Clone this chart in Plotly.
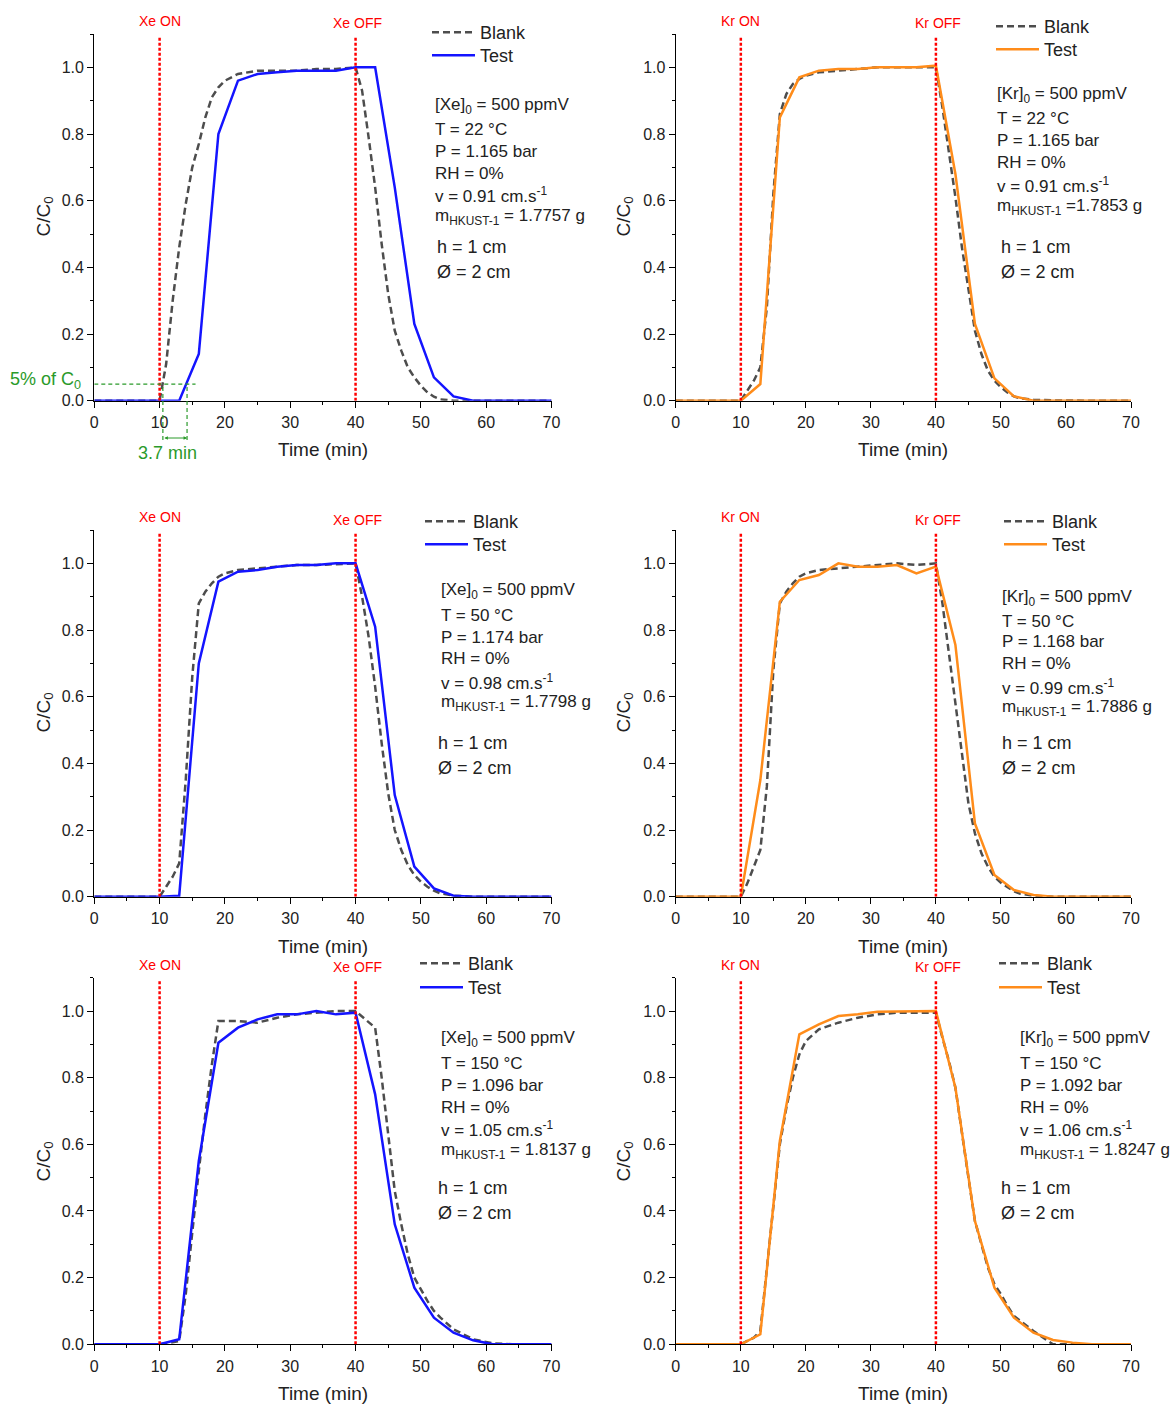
import plotly.graph_objects as go

W, H = 1173, 1404

# ---------------- data ----------------
test_time = [0, 10, 13, 16, 19, 22, 25, 28, 31, 34, 37, 40, 43, 46, 49, 52, 55, 58, 61, 64, 70]
blank_time = [0, 10, 11, 12, 13, 14, 15, 16, 17, 18, 19, 20, 22, 25, 28, 31, 34, 37, 40,
              41, 42, 43, 44, 45, 46, 47, 48, 49, 50, 51, 52, 53, 55, 58, 61, 64, 70]

xe22_test = [0, 0, 0, 0.14, 0.80, 0.96, 0.98, 0.985, 0.99, 0.99, 0.99, 1.0, 1.0, 0.64, 0.23, 0.07, 0.013, 0, 0, 0, 0]
kr22_test = [0, 0, 0.05, 0.85, 0.97, 0.99, 0.995, 0.995, 1.0, 1.0, 1.0, 1.005, 0.68, 0.23, 0.067, 0.013, 0.0, 0, 0, 0, 0]
xe50_test = [0, 0, 0.003, 0.70, 0.945, 0.975, 0.98, 0.99, 0.995, 0.995, 1.0, 1.0, 0.81, 0.305, 0.09, 0.025, 0.003, 0, 0, 0, 0]
kr50_test = [0, 0, 0.35, 0.885, 0.95, 0.965, 1.0, 0.99, 0.99, 0.995, 0.97, 0.99, 0.755, 0.22, 0.065, 0.02, 0.005, 0, 0, 0, 0]
xe150_test = [0, 0, 0.015, 0.55, 0.905, 0.95, 0.975, 0.99, 0.99, 1.0, 0.99, 0.995, 0.75, 0.36, 0.17, 0.08, 0.035, 0.012, 0, 0, 0]
kr150_test = [0, 0, 0.03, 0.61, 0.93, 0.96, 0.985, 0.99, 0.998, 0.998, 1.0, 1.0, 0.77, 0.37, 0.17, 0.08, 0.035, 0.013, 0.005, 0, 0]

xe22_blank = [0, 0, 0.11, 0.30, 0.46, 0.59, 0.70, 0.77, 0.85, 0.91, 0.94, 0.96, 0.98, 0.99, 0.99, 0.99, 0.995, 0.995, 1.0,
              0.93, 0.79, 0.64, 0.47, 0.32, 0.21, 0.15, 0.10, 0.07, 0.045, 0.025, 0.012, 0.004, 0, 0, 0, 0, 0]
kr22_blank = [0, 0, 0.03, 0.06, 0.10, 0.28, 0.62, 0.86, 0.92, 0.95, 0.965, 0.975, 0.985, 0.99, 0.995, 1.0, 1.0, 1.0, 1.0,
              0.88, 0.75, 0.61, 0.46, 0.33, 0.21, 0.14, 0.09, 0.06, 0.04, 0.025, 0.013, 0.007, 0.003, 0.001, 0, 0, 0]
xe50_blank = [0, 0, 0.03, 0.06, 0.10, 0.35, 0.66, 0.88, 0.915, 0.94, 0.96, 0.97, 0.98, 0.985, 0.99, 0.995, 0.995, 0.997, 1.0,
              0.90, 0.78, 0.63, 0.46, 0.31, 0.20, 0.14, 0.095, 0.065, 0.045, 0.03, 0.018, 0.01, 0.003, 0, 0, 0, 0]
kr50_blank = [0, 0, 0.04, 0.09, 0.14, 0.33, 0.68, 0.88, 0.915, 0.94, 0.96, 0.97, 0.98, 0.985, 0.99, 0.995, 1.0, 0.995, 1.0,
              0.88, 0.73, 0.58, 0.42, 0.28, 0.19, 0.13, 0.09, 0.06, 0.042, 0.028, 0.016, 0.009, 0.003, 0, 0, 0, 0]
xe150_blank = [0, 0, 0.003, 0.006, 0.01, 0.15, 0.34, 0.52, 0.69, 0.84, 0.97, 0.97, 0.97, 0.965, 0.98, 0.99, 0.995, 1.0, 1.0,
               0.983, 0.967, 0.95, 0.80, 0.62, 0.46, 0.36, 0.27, 0.20, 0.165, 0.13, 0.10, 0.08, 0.045, 0.015, 0.003, 0, 0]
kr150_blank = [0, 0, 0.01, 0.02, 0.04, 0.22, 0.42, 0.60, 0.71, 0.80, 0.87, 0.91, 0.945, 0.965, 0.98, 0.99, 0.995, 0.995, 0.995,
               0.92, 0.85, 0.77, 0.63, 0.50, 0.37, 0.30, 0.23, 0.18, 0.15, 0.115, 0.085, 0.07, 0.04, 0.0, 0, 0, 0]

gas_on_off = [10, 40]
x_ticks = [0, 10, 20, 30, 40, 50, 60, 70]
y_ticks = [0.0, 0.2, 0.4, 0.6, 0.8, 1.0]
threshold = 0.05            # 5 % of C0
bt_blank, bt_test = 10.5, 14.2   # breakthrough times at 5 %

BLUE = "#1414ff"
ORANGE = "#ff8c1a"
GREY = "#4d4d4d"
RED = "#ff0000"
GREEN = "#2a9a2a"
TXT = "#222222"
FONT = "Arial, Liberation Sans, sans-serif"

panels = [
    dict(gas="Xe", test=xe22_test, blank=xe22_blank, color=BLUE, col=0, row=0,
         params=["[Xe]<sub>0</sub> = 500 ppmV", "T = 22 °C", "P = 1.165 bar", "RH = 0%",
                 "v = 0.91 cm.s<sup>-1</sup>", "m<sub>HKUST-1</sub> = 1.7757 g"],
         ppx=433, hpx=435, py=[106, 130, 152, 173, 195, 217, 247, 272],
         leg=(433, 32, 55)),
    dict(gas="Kr", test=kr22_test, blank=kr22_blank, color=ORANGE, col=1, row=0,
         params=["[Kr]<sub>0</sub> = 500 ppmV", "T = 22 °C", "P = 1.165 bar", "RH = 0%",
                 "v = 0.91 cm.s<sup>-1</sup>", "m<sub>HKUST-1</sub> =1.7853 g"],
         ppx=995, hpx=999, py=[95, 118, 141, 162, 185, 207, 247, 272],
         leg=(997, 26, 49)),
    dict(gas="Xe", test=xe50_test, blank=xe50_blank, color=BLUE, col=0, row=1,
         params=["[Xe]<sub>0</sub> = 500 ppmV", "T = 50 °C", "P = 1.174 bar", "RH = 0%",
                 "v = 0.98 cm.s<sup>-1</sup>", "m<sub>HKUST-1</sub> = 1.7798 g"],
         ppx=439, hpx=436, py=[591, 615, 637, 658, 682, 703, 743, 768],
         leg=(426, 521, 544)),
    dict(gas="Kr", test=kr50_test, blank=kr50_blank, color=ORANGE, col=1, row=1,
         params=["[Kr]<sub>0</sub> = 500 ppmV", "T = 50 °C", "P = 1.168 bar", "RH = 0%",
                 "v = 0.99 cm.s<sup>-1</sup>", "m<sub>HKUST-1</sub> = 1.7886 g"],
         ppx=1000, hpx=1000, py=[598, 621, 642, 663, 687, 708, 743, 768],
         leg=(1005, 521, 544)),
    dict(gas="Xe", test=xe150_test, blank=xe150_blank, color=BLUE, col=0, row=2,
         params=["[Xe]<sub>0</sub> = 500 ppmV", "T = 150 °C", "P = 1.096 bar", "RH = 0%",
                 "v = 1.05 cm.s<sup>-1</sup>", "m<sub>HKUST-1</sub> = 1.8137 g"],
         ppx=439, hpx=436, py=[1039, 1063, 1085, 1107, 1129, 1151, 1188, 1213],
         leg=(421, 963, 987)),
    dict(gas="Kr", test=kr150_test, blank=kr150_blank, color=ORANGE, col=1, row=2,
         params=["[Kr]<sub>0</sub> = 500 ppmV", "T = 150 °C", "P = 1.092 bar", "RH = 0%",
                 "v = 1.06 cm.s<sup>-1</sup>", "m<sub>HKUST-1</sub> = 1.8247 g"],
         ppx=1018, hpx=999, py=[1039, 1063, 1085, 1107, 1129, 1151, 1188, 1213],
         leg=(1000, 963, 987)),
]

# pixel geometry of the axes boxes
col_px = [(94.3, 551.5), (675.8, 1131.0)]
row_px = [(34.0, 400.7), (530.0, 896.7), (977.7, 1344.3)]
xtitle_py = [450, 946, 1393]
ytitle_px = [44.5, 624.5]
ytitle_py = [217, 713, 1162]
onoff_py = [(20.7, 23.3), (517, 520), (965, 967)]


def px(x):
    return x / W


def py(y):
    return 1 - y / H


fig = go.Figure()
layout = dict(width=W, height=H, margin=dict(l=0, r=0, t=0, b=0, pad=0, autoexpand=False),
              paper_bgcolor="white", plot_bgcolor="white",
              font=dict(family=FONT, color=TXT), showlegend=True)
annotations = []
shapes = []
nleg = 0

for i, p in enumerate(panels, start=1):
    sfx = "" if i == 1 else str(i)
    xa, ya = "x" + sfx, "y" + sfx
    c0, c1 = col_px[p["col"]]
    r0, r1 = row_px[p["row"]]

    series = [("Blank", blank_time, p["blank"], dict(color=GREY, width=2.5, dash="7px,4px"), p["leg"][1]),
              ("Test", test_time, p["test"], dict(color=p["color"], width=2.5), p["leg"][2])]
    for name, xs, ys, ln, ly in series:
        nleg += 1
        lg = "legend" if nleg == 1 else "legend" + str(nleg)
        fig.add_trace(go.Scatter(x=xs, y=ys, mode="lines", name=name, line=ln,
                                 xaxis=xa, yaxis=ya, legend=lg, showlegend=True))
        layout[lg] = dict(x=px(p["leg"][0] - 6), y=py(ly - 18), xanchor="left", yanchor="top",
                          bgcolor="rgba(0,0,0,0)", borderwidth=0, itemwidth=43,
                          font=dict(family=FONT, size=18, color=TXT), tracegroupgap=0)

    common = dict(showline=True, linecolor="black", linewidth=1.3, showgrid=False, zeroline=False,
                  ticks="outside", ticklen=6, tickwidth=1.2, tickcolor="black", automargin=False,
                  tickfont=dict(family=FONT, size=16, color=TXT))
    layout["xaxis" + sfx] = dict(common, domain=[px(c0), px(c1)], range=[0, 70], anchor=ya,
                                 tickvals=x_ticks, ticklabelstandoff=1,
                                 minor=dict(ticks="outside", ticklen=3, tickwidth=1.2,
                                            tickcolor="black", dtick=5, tick0=0))
    layout["yaxis" + sfx] = dict(common, domain=[py(r1), py(r0)], range=[0, 1.1], anchor=xa,
                                 tickvals=y_ticks, tickformat=".1f",
                                 minor=dict(ticks="outside", ticklen=3, tickwidth=1.2,
                                            tickcolor="black", dtick=0.1, tick0=0))

    # gas ON / OFF lines
    for t in gas_on_off:
        shapes.append(dict(type="line", xref=xa, yref=ya, x0=t, x1=t, y0=0, y1=1.09,
                           line=dict(color=RED, width=2.5, dash="3px,2px"), layer="above"))
    on_y, off_y = onoff_py[p["row"]]
    annotations.append(dict(xref=xa, yref="paper", x=gas_on_off[0], y=py(on_y), text=p["gas"] + " ON",
                            showarrow=False, xanchor="center", yanchor="middle",
                            font=dict(family=FONT, size=14, color=RED)))
    annotations.append(dict(xref=xa, yref="paper", x=gas_on_off[1] + 0.3, y=py(off_y), text=p["gas"] + " OFF",
                            showarrow=False, xanchor="center", yanchor="middle",
                            font=dict(family=FONT, size=14, color=RED)))

    # axis titles
    annotations.append(dict(xref="paper", yref="paper", x=px((c0 + c1) / 2), y=py(xtitle_py[p["row"]]),
                            text="Time (min)", showarrow=False, xanchor="center", yanchor="middle",
                            font=dict(family=FONT, size=19, color=TXT)))
    annotations.append(dict(xref="paper", yref="paper", x=px(ytitle_px[p["col"]]), y=py(ytitle_py[p["row"]]),
                            text="C/C<sub>0</sub>", textangle=-90, showarrow=False,
                            xanchor="center", yanchor="middle",
                            font=dict(family=FONT, size=19, color=TXT)))

    # parameter text
    for k, line in enumerate(p["params"]):
        annotations.append(dict(xref="paper", yref="paper", x=px(p["ppx"]), y=py(p["py"][k]),
                                text=line, showarrow=False, xanchor="left", yanchor="middle",
                                font=dict(family=FONT, size=17, color=TXT)))
    for k, line in enumerate(["h = 1 cm", "Ø = 2 cm"]):
        annotations.append(dict(xref="paper", yref="paper", x=px(p["hpx"]), y=py(p["py"][6 + k]),
                                text=line, showarrow=False, xanchor="left", yanchor="middle",
                                font=dict(family=FONT, size=18, color=TXT)))

# --- breakthrough annotation on the first panel ---
shapes.append(dict(type="line", xref="x", yref="y", x0=0, x1=15.5, y0=threshold, y1=threshold,
                   line=dict(color=GREEN, width=1.2, dash="4px,3px"), layer="above"))
for t in (bt_blank, bt_test):
    shapes.append(dict(type="line", xref="x", yref="paper", x0=t, x1=t, y0=py(440), y1=py(385),
                       line=dict(color=GREEN, width=1.2, dash="4px,3px"), layer="above"))
annotations.append(dict(xref="x", yref="paper", x=bt_test, y=py(438), ax=bt_blank, axref="x",
                        ay=0, ayref="pixel", text="", showarrow=True, arrowhead=2, arrowside="end+start",
                        arrowsize=0.7, arrowwidth=1, arrowcolor=GREEN))
annotations.append(dict(xref="paper", yref="paper", x=px(167), y=py(453), text="3.7 min",
                        showarrow=False, xanchor="center", yanchor="middle",
                        font=dict(family=FONT, size=18, color=GREEN)))
annotations.append(dict(xref="paper", yref="paper", x=px(8), y=py(381), text="5% of C<sub>0</sub>",
                        showarrow=False, xanchor="left", yanchor="middle",
                        font=dict(family=FONT, size=18, color=GREEN)))

layout["annotations"] = annotations
layout["shapes"] = shapes
fig.update_layout(**layout)
fig.write_html("out.html", config={"displayModeBar": False},
               post_script="document.body.style.margin='0px';document.body.style.padding='0px';")
